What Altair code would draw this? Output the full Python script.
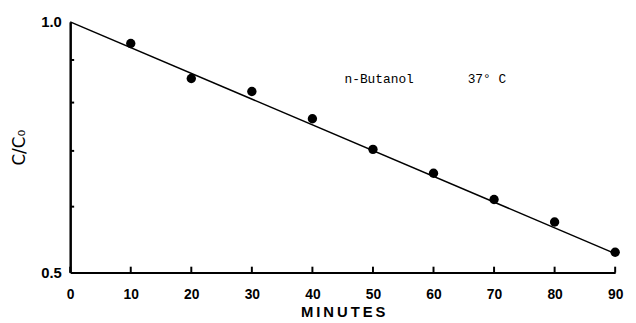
import altair as alt
import pandas as pd

minutes = [10, 20, 30, 40, 50, 60, 70, 80, 90]
ratio = [0.942, 0.855, 0.825, 0.765, 0.703, 0.658, 0.612, 0.575, 0.529]
fit_minutes = [0, 90]
fit_ratio = [1.0, 0.527]
x_ticks = [0, 10, 20, 30, 40, 50, 60, 70, 80, 90]
y_ticks = [0.9, 0.8, 0.7, 0.6]
y_labels = [0.5, 1.0]
note = "n-Butanol\u00a0\u00a0\u00a0\u00a0\u00a0\u00a0\u00a037°\u00a0C"
note_x = [45.3]
note_y = [0.853]
x_title = "\u2009".join("MINUTES")
y_title = "C/C₀"

pts = pd.DataFrame({"m": minutes, "r": ratio})
fit = pd.DataFrame({"m": fit_minutes, "r": fit_ratio})
xt = pd.DataFrame({"m": x_ticks})
yt = pd.DataFrame({"r": y_ticks})
nt = pd.DataFrame({"m": note_x, "r": note_y, "t": [note]})

W, H = 552, 254
xs = alt.Scale(domain=[0, 90], nice=False, zero=False)
ys = alt.Scale(type="log", domain=[0.5, 1.0], nice=False, zero=False)

xaxis = alt.Axis(values=x_ticks, ticks=False, grid=False, domainColor="black",
                 domainWidth=2, labelFont="Liberation Sans", labelFontSize=14,
                 labelFontWeight="bold", labelColor="black", labelPadding=15,
                 title=x_title, titleFont="Liberation Sans", titleFontSize=15,
                 titleFontWeight="bold", titleColor="black", titlePadding=3,
                 labelFlush=False)
yaxis = alt.Axis(values=y_labels, format=".1f", ticks=False, grid=False,
                 domainColor="black", domainWidth=2.5, labelFont="Liberation Sans",
                 labelFontSize=15, labelFontWeight="bold", labelColor="black",
                 labelPadding=9, title=y_title, titleFont="DejaVu Sans",
                 titleFontSize=17, titleFontWeight="normal", titleColor="black",
                 titlePadding=12)

line = alt.Chart(fit).mark_line(color="black", strokeWidth=1.5).encode(
    x=alt.X("m:Q", scale=xs, axis=xaxis),
    y=alt.Y("r:Q", scale=ys, axis=yaxis),
)
dots = alt.Chart(pts).mark_circle(color="black", opacity=1, size=90).encode(
    x=alt.X("m:Q", scale=xs), y=alt.Y("r:Q", scale=ys)
)
xtick = alt.Chart(xt).mark_rule(color="black", strokeWidth=2).encode(
    x=alt.X("m:Q", scale=xs), y=alt.value(H), y2=alt.value(H - 6)
)
ytick = alt.Chart(yt).mark_rule(color="black", strokeWidth=2).encode(
    y=alt.Y("r:Q", scale=ys), x=alt.value(0), x2=alt.value(4)
)
text = alt.Chart(nt).mark_text(font="Liberation Mono", fontSize=13, align="left",
                               baseline="middle", color="black").encode(
    x=alt.X("m:Q", scale=xs), y=alt.Y("r:Q", scale=ys), text="t:N"
)

chart = alt.layer(line, dots, xtick, ytick, text).properties(
    width=W, height=H,
    autosize=alt.AutoSizeParams(type="none"),
    padding={"left": 63, "top": 12, "right": 13, "bottom": 49},
).configure_view(stroke=None)

chart.save("out.html", embed_options={"renderer": "svg", "actions": False})
